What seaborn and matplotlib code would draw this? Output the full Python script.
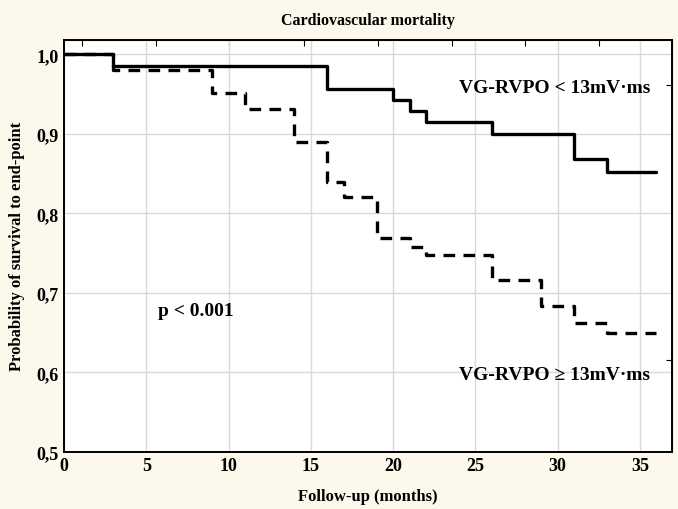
import pandas as pd
import seaborn as sns
import matplotlib.pyplot as plt

# Kaplan-Meier steps
low_months = [0, 3, 16, 20, 21, 22, 26, 31, 33, 36]
low_surv = [1.0, 0.986, 0.957, 0.943, 0.929, 0.915, 0.900, 0.868, 0.852, 0.852]

high_months = [0, 3, 9, 11, 14, 16, 17, 19, 21, 22, 26, 29, 31, 33, 36]
high_surv = [1.0, 0.980, 0.951, 0.931, 0.890, 0.840, 0.820, 0.769, 0.758,
             0.748, 0.716, 0.683, 0.662, 0.650, 0.650]

x_ticks = [0, 5, 10, 15, 20, 25, 30, 35]
y_ticks = [0.5, 0.6, 0.7, 0.8, 0.9, 1.0]
y_tick_labels = ['0,5', '0,6', '0,7', '0,8', '0,9', '1,0']

df_low = pd.DataFrame({'months': low_months, 'surv': low_surv})
df_high = pd.DataFrame({'months': high_months, 'surv': high_surv})

sns.set_style("white")
plt.rcParams['font.family'] = ['Liberation Serif', 'DejaVu Serif']
plt.rcParams['font.weight'] = 'bold'
plt.rcParams['text.color'] = 'black'
plt.rcParams['axes.labelcolor'] = 'black'
plt.rcParams['xtick.color'] = 'black'
plt.rcParams['ytick.color'] = 'black'

bg = '#fdf8ec'
fig = plt.figure(figsize=(6.78, 5.10), dpi=100, facecolor=bg)
ax = fig.add_axes([64 / 678, 1 - 452.7 / 510, 608 / 678, 412 / 510])
ax.set_facecolor('white')

sns.lineplot(data=df_low, x='months', y='surv', ax=ax, color='black',
             linewidth=2.4, drawstyle='steps-post', estimator=None, sort=False)
sns.lineplot(data=df_high, x='months', y='surv', ax=ax, color='black',
             linewidth=2.4, drawstyle='steps-post', estimator=None, sort=False,
             linestyle=(0, (3.5, 2.5)))

ax.set_xlim(0, 36.95)
ax.set_ylim(0.5, 1.0186)
ax.set_xticks(x_ticks)
ax.set_yticks(y_ticks)
ax.set_yticklabels(y_tick_labels)
ax.grid(True, color='#d9d9d9', linewidth=1)
ax.set_axisbelow(True)
ax.tick_params(axis='both', direction='in', length=4, width=1, labelsize=13,
               pad=4)
for s in ax.spines.values():
    s.set_color('black')
    s.set_linewidth(1.4)

# small inward ticks on the top and right frame
top = ax.secondary_xaxis('top')
top.set_xticks([1.1, 5.6, 10.0, 14.6, 19.1, 23.6, 28.0, 32.5])
top.tick_params(direction='in', length=4, labeltop=False)
right = ax.secondary_yaxis('right')
right.set_yticks([0.962, 0.615])
right.tick_params(direction='in', length=4, labelright=False)

ax.set_xlabel('Follow-up (months)', fontsize=12, fontweight='bold', labelpad=10)
ax.set_ylabel('Probability of survival to end-point', fontsize=12,
              fontweight='bold', labelpad=8)
ax.set_title('Cardiovascular mortality', fontsize=11.5, fontweight='bold', pad=11)

ax.text(29.8, 0.959, 'VG-RVPO < 13mV\u00b7ms', fontsize=14, fontweight='bold',
        ha='center', va='center')
ax.text(29.8, 0.597, 'VG-RVPO \u2265 13mV\u00b7ms', fontsize=14, fontweight='bold',
        ha='center', va='center')
ax.text(8.0, 0.678, 'p < 0.001', fontsize=14, fontweight='bold',
        ha='center', va='center')

fig.savefig('out.png', dpi=100, facecolor=bg)
